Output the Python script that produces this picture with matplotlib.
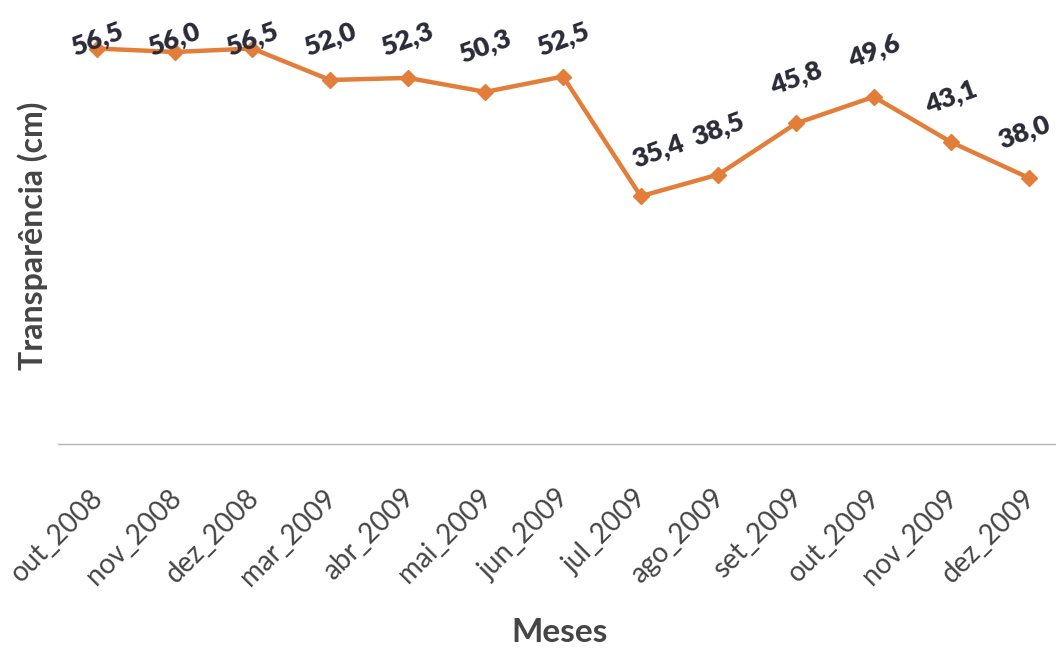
import matplotlib
matplotlib.use("Agg")
import matplotlib.pyplot as plt
from matplotlib.transforms import ScaledTranslation

# Monthly water transparency readings
meses = ["out_2008", "nov_2008", "dez_2008", "mar_2009", "abr_2009", "mai_2009",
         "jun_2009", "jul_2009", "ago_2009", "set_2009", "out_2009", "nov_2009",
         "dez_2009"]
transparencia = [56.5, 56.0, 56.5, 52.0, 52.3, 50.3, 52.5, 35.4, 38.5, 45.8,
                 49.6, 43.1, 38.0]

LINE_COLOR = "#E27E3A"
LABEL_COLOR = "#2A2A38"
TICK_COLOR = "#454545"
FONT = ["Lato", "DejaVu Sans"]

W, H = 1056, 648
fig = plt.figure(figsize=(W / 100, H / 100), dpi=100)

# plot area: x from pixel 58 to the right edge, y from pixel 444 up to the top
left_px, bottom_px = 58.2, 444
step_px = 77.67
ax = fig.add_axes([left_px / W, (H - bottom_px) / H, 1 - left_px / W, bottom_px / H])

x = list(range(len(meses)))
ax.plot(x, transparencia, color=LINE_COLOR, lw=3.2, marker="D", ms=8.5,
        markeredgecolor=LINE_COLOR, markerfacecolor=LINE_COLOR, zorder=3,
        clip_on=False)

ax.set_xlim(-0.5, (W - left_px) / step_px - 0.5)
px_per_unit = 7.0
ax.set_ylim(0, bottom_px / px_per_unit)

# value labels above each point, kept inside the top of the chart
label_off = 45 / px_per_unit
label_cap = (bottom_px - 40) / px_per_unit
nudge_x = {7: 0.23, 12: -0.06}
for i, v in enumerate(transparencia):
    ly = min(v + label_off, label_cap)
    ax.text(i + nudge_x.get(i, 0), ly, f"{v:.1f}".replace(".", ","),
            rotation=20, rotation_mode="anchor", ha="center", va="center",
            fontsize=19.5, fontweight="heavy", color=LABEL_COLOR, family=FONT,
            clip_on=False, zorder=4)

ax.set_xticks(x)
ax.set_xticklabels(meses, rotation=45, ha="right", rotation_mode="anchor",
                   fontsize=20, color=TICK_COLOR, family=FONT)
ax.tick_params(axis="x", length=0, pad=29)
shift = ScaledTranslation(-7 / 100, 0, fig.dpi_scale_trans)
for lbl in ax.get_xticklabels():
    lbl.set_transform(lbl.get_transform() + shift)
ax.set_yticks([])

for side in ("top", "right", "left"):
    ax.spines[side].set_visible(False)
ax.spines["bottom"].set_color("#B5B5B5")
ax.spines["bottom"].set_linewidth(1.0)

fig.text(33 / W, 1 - 236 / H, "Transparência (cm)", rotation=90,
         ha="center", va="center", fontsize=23, fontweight="bold",
         color=TICK_COLOR, family=FONT)
fig.text(560 / W, 1 - 632 / H, "Meses", ha="center", va="center",
         fontsize=24, fontweight="bold", color=TICK_COLOR, family=FONT)

fig.savefig("out.png", dpi=100)
